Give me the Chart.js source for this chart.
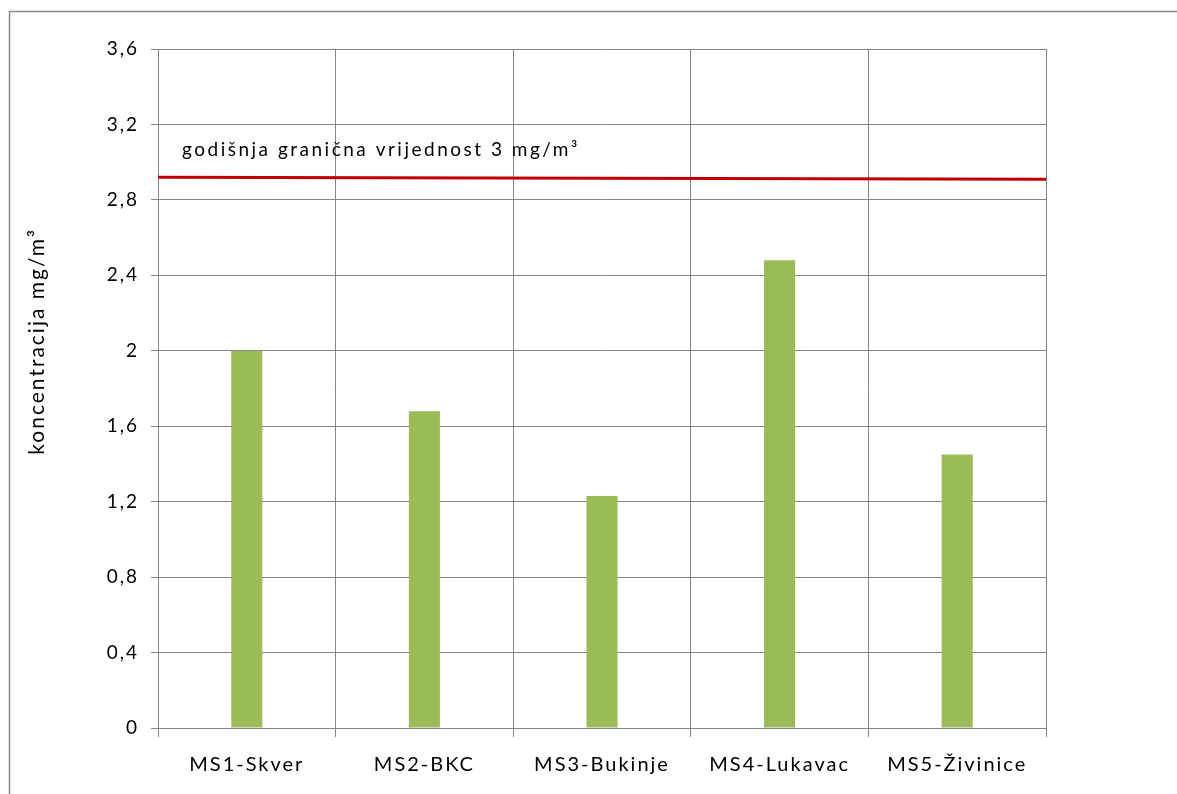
<!DOCTYPE html>
<html>
<head>
<meta charset="utf-8">
<script src="https://cdn.jsdelivr.net/npm/chart.js@4.4.1/dist/chart.umd.min.js"></script>
<style>
	html, body { margin: 0; padding: 0; background: #fff; }
	#wrap { width: 1177px; height: 794px; position: relative; }
</style>
</head>
<body>
<div id="wrap"><canvas id="pm10Chart"></canvas></div>
<script>
// mjerna mjesta i godisnje koncentracije
var stations = ['MS1-Skver', 'MS2-BKC', 'MS3-Bukinje', 'MS4-Lukavac', 'MS5-Živinice'];
var concentration = [2.0, 1.68, 1.23, 2.48, 1.45];

// granicna vrijednost (crvena linija preko cijelog grafa)
var limitX = [-0.5, 4.5];
var limitY = [2.92, 2.91];
var limitLabel = 'godišnja granična vrijednost 3 mg/m³';
var limitLabelY = 3.065;
var yTitle = 'koncentracija mg/m³';

var fontFamily = 'Lato, "Open Sans", sans-serif';

Chart.defaults.font.family = fontFamily;
Chart.defaults.color = '#000';

var gridColor = '#858585';

// gray frame around the whole chart, wider letter spacing like the original
var framePlugin = {
	id: 'frame',
	beforeDraw: function (chart) {
		var c = chart.ctx;
		c.fillStyle = '#fff';
		c.fillRect(0, 0, chart.width, chart.height);
		c.strokeStyle = '#8a8a8a';
		c.lineWidth = 1.5;
		c.strokeRect(9.5, 11.5, 1400, 1000);
		c.letterSpacing = '2px';
	}
};

// text above the limit line + y axis title (sits higher than the plot centre)
var textPlugin = {
	id: 'extraText',
	afterDatasetsDraw: function (chart) {
		var c = chart.ctx;
		var y = chart.scales.y.getPixelForValue(limitLabelY);
		c.save();
		c.font = '19px ' + fontFamily;
		c.letterSpacing = '2.5px';
		c.fillStyle = '#000';
		c.textBaseline = 'middle';
		c.fillText(limitLabel, chart.chartArea.left + 24, y);
		c.restore();

		c.save();
		c.font = '21px ' + fontFamily;
		c.letterSpacing = '2px';
		c.fillStyle = '#000';
		c.textAlign = 'center';
		c.textBaseline = 'middle';
		c.translate(37, chart.scales.y.getPixelForValue(2.05));
		c.rotate(-Math.PI / 2);
		c.fillText(yTitle, 0, 0);
		c.restore();
	}
};

var ctx = document.getElementById('pm10Chart');

new Chart(ctx, {
	type: 'bar',
	data: {
		labels: stations,
		datasets: [{
			data: concentration,
			backgroundColor: '#9bbb59',
			grouped: false,
			barPercentage: 1,
			categoryPercentage: 0.175,
			order: 1
		}, {
			type: 'line',
			data: limitX.map(function (x, i) { return { x: x, y: limitY[i] }; }),
			xAxisID: 'xLine',
			borderColor: '#c00000',
			borderWidth: 3,
			pointRadius: 0,
			fill: false,
			order: 0
		}]
	},
	plugins: [framePlugin, textPlugin],
	options: {
		responsive: true,
		maintainAspectRatio: false,
		animation: false,
		layout: {
			padding: { left: 0, top: 49, right: 131, bottom: 0 }
		},
		plugins: {
			legend: { display: false },
			tooltip: { enabled: false }
		},
		scales: {
			x: {
				grid: { color: gridColor, lineWidth: 1, tickLength: 9, offset: true },
				border: { color: gridColor, width: 1 },
				ticks: { font: { size: 20 }, padding: 16, maxRotation: 0 },
				afterFit: function (scale) { scale.height = 66; }
			},
			xLine: {
				type: 'linear',
				display: false,
				offset: false,
				min: -0.5,
				max: 4.5
			},
			y: {
				min: 0,
				max: 3.6,
				grid: { color: gridColor, lineWidth: 1, tickLength: 7 },
				border: { color: gridColor, width: 1 },
				ticks: {
					stepSize: 0.4,
					font: { size: 19 },
					padding: 12,
					callback: function (v) {
						return String(Number(v.toFixed(1))).replace('.', ',');
					}
				},
				afterFit: function (scale) { scale.width = 158; }
			}
		}
	}
});
</script>
</body>
</html>
